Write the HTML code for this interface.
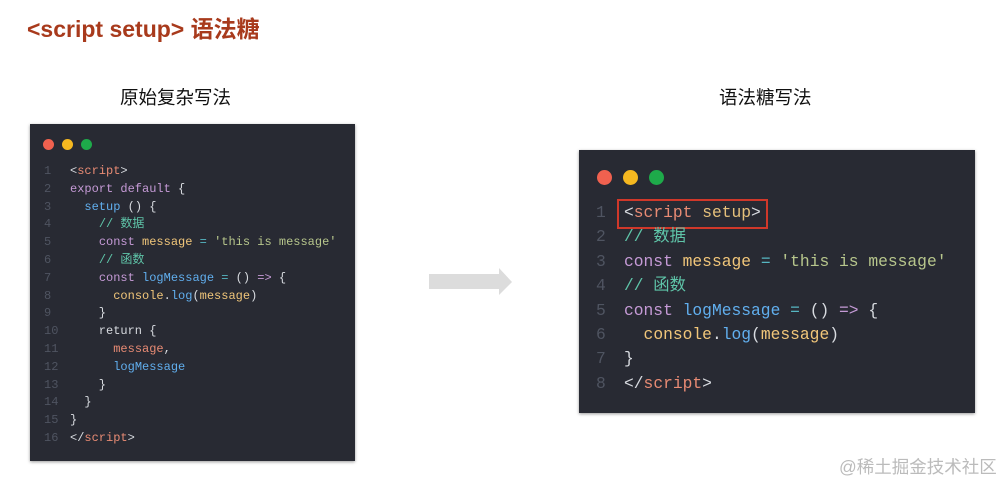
<!DOCTYPE html>
<html><head><meta charset="utf-8"><style>
body{margin:0;width:1006px;height:483px;background:#fff;position:relative;overflow:hidden;font-family:"Liberation Sans","Noto Sans CJK SC",sans-serif}
.t{position:absolute;white-space:pre}
.box{position:absolute;background:#282a33;box-shadow:0 1px 3px rgba(0,0,0,.4)}
.dot{position:absolute;border-radius:50%}
.code{position:absolute;font-family:"Liberation Mono","Noto Sans CJK SC",monospace;color:#d8dbe0;white-space:pre}
.ln{position:absolute;font-family:"Liberation Mono",monospace;color:#4f5461;white-space:pre}
.g{color:#d8dbe0}.tg{color:#e88b74}.kw{color:#c59ad6}.v{color:#f1c67a}.s{color:#b7c68c}.c{color:#5fc5a9}.b{color:#61afef}.o{color:#56b6c2}.at{color:#e5c07b}
</style></head><body>
<div class="t" style="left:27px;top:10px;font-size:23px;font-weight:bold;color:#a83a1c">&lt;script setup&gt; 语法糖</div>
<div class="t" style="left:120px;top:84px;font-size:18.5px;color:#111">原始复杂写法</div>
<div class="t" style="left:719px;top:84px;font-size:18.5px;color:#111">语法糖写法</div>

<div class="box" style="left:30px;top:124px;width:325px;height:337px"></div>
<div class="dot" style="left:43px;top:139px;width:11px;height:11px;background:#f0614f"></div>
<div class="dot" style="left:62px;top:139px;width:11px;height:11px;background:#f5b820"></div>
<div class="dot" style="left:81px;top:139px;width:11px;height:11px;background:#1eaa4a"></div>
<div class="ln" style="left:44px;top:163px;font-size:12px;line-height:17.8px">1
2
3
4
5
6
7
8
9
10
11
12
13
14
15
16</div>
<div class="code" style="left:70px;top:163px;font-size:12px;line-height:17.8px"><span class="g">&lt;</span><span class="tg">script</span><span class="g">&gt;</span>
<span class="kw">export default</span> {
  <span class="b">setup</span> () {
    <span class="c">// 数据</span>
    <span class="kw">const</span> <span class="v">message</span> <span class="o">=</span> <span class="s">'this is message'</span>
    <span class="c">// 函数</span>
    <span class="kw">const</span> <span class="b">logMessage</span> <span class="o">=</span> () <span class="kw">=&gt;</span> {
      <span class="v">console</span>.<span class="b">log</span>(<span class="v">message</span>)
    }
    return {
      <span class="tg">message</span>,
      <span class="b">logMessage</span>
    }
  }
}
&lt;/<span class="tg">script</span>&gt;</div>

<svg style="position:absolute;left:0;top:0" width="1006" height="483"><polygon points="429,274 499,274 499,268 512,282 499,295 499,289 429,289" fill="#dcdcdc"/></svg>

<div class="box" style="left:579px;top:150px;width:396px;height:263px"></div>
<div class="dot" style="left:597px;top:170px;width:15px;height:15px;background:#f0614f"></div>
<div class="dot" style="left:623px;top:170px;width:15px;height:15px;background:#f5b820"></div>
<div class="dot" style="left:649px;top:170px;width:15px;height:15px;background:#1eaa4a"></div>
<div style="position:absolute;left:617px;top:199px;width:147px;height:26px;border:2px solid #d0382a"></div>
<div class="ln" style="left:596px;top:201px;font-size:16.3px;line-height:24.4px">1
2
3
4
5
6
7
8</div>
<div class="code" style="left:624px;top:201px;font-size:16.3px;line-height:24.4px"><span class="g">&lt;</span><span class="tg">script</span> <span class="at">setup</span><span class="g">&gt;</span>
<span class="c">// 数据</span>
<span class="kw">const</span> <span class="v">message</span> <span class="o">=</span> <span class="s">'this is message'</span>
<span class="c">// 函数</span>
<span class="kw">const</span> <span class="b">logMessage</span> <span class="o">=</span> () <span class="kw">=&gt;</span> {
  <span class="v">console</span>.<span class="b">log</span>(<span class="v">message</span>)
}
&lt;/<span class="tg">script</span>&gt;</div>

<div class="t" style="left:839px;top:454px;font-size:17.5px;color:#bbb">@稀土掘金技术社区</div>
</body></html>
